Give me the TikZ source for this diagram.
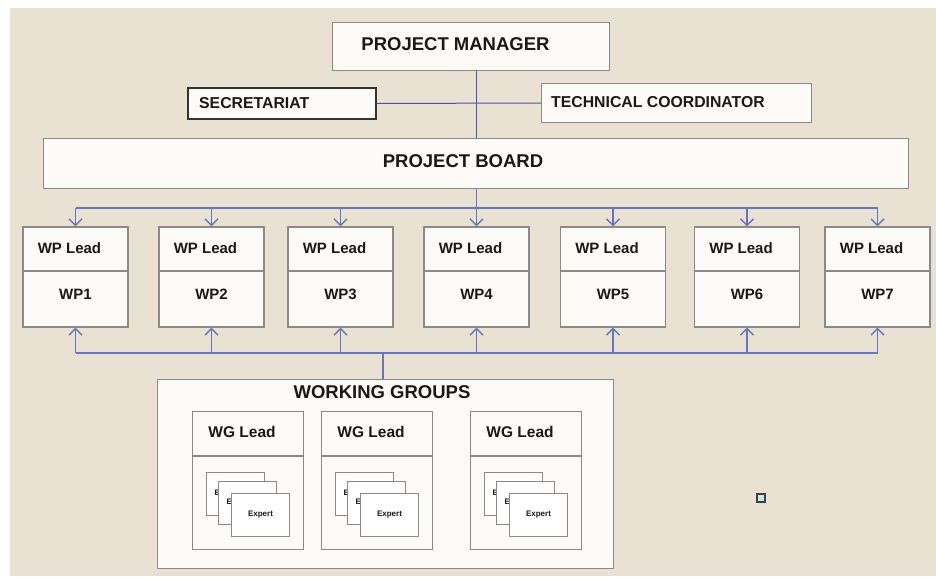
\documentclass[tikz,border=0pt]{standalone}
\usepackage{fontspec}
\setmainfont{Liberation Sans}
\usetikzlibrary{arrows.meta}
\definecolor{bg}{RGB}{233,226,210}
\definecolor{boxfill}{RGB}{252,251,248}
\definecolor{boxline}{RGB}{140,138,135}
\definecolor{linkc}{RGB}{100,118,190}
\definecolor{darklink}{RGB}{72,84,172}
\definecolor{txt}{RGB}{25,25,25}
\definecolor{sqfill}{RGB}{205,232,226}
\newcommand\myfs[1]{\fontsize{#1}{#1}\selectfont\bfseries}
\begin{document}
\begin{tikzpicture}[x=1pt,y=-1pt,
  box/.style={draw=boxline, fill=boxfill, line width=1.1pt, inner sep=0pt, anchor=north west},
  secbox/.style={draw=black!80, fill=boxfill, line width=1.8pt, inner sep=0pt, anchor=north west},
  card/.style={draw=boxline, fill=white, line width=1pt, inner sep=0pt, anchor=north west, minimum width=58pt, minimum height=43pt},
  lbl/.style={text=txt, inner sep=0pt, font=\myfs{15}},
  big/.style={text=txt, inner sep=0pt, font=\myfs{18.5}},
  mid/.style={text=txt, inner sep=0pt, font=\myfs{15.8}},
  tiny/.style={text=txt, inner sep=0pt, font=\myfs{8}},
  toplink/.style={draw=darklink, line width=1pt},
  link/.style={draw=linkc, line width=1.4pt},
  arr/.style={-{Straight Barb[length=6.5pt,width=13pt]}},
]
\useasboundingbox (0,0) rectangle (936,576);
\fill[white] (0,0) rectangle (936,576);
\fill[bg] (10,8) rectangle (936,576);

% top level
\node[box, minimum width=277pt, minimum height=48pt] (pm) at (332,22) {};
\node[big] (pmt) at (455.5,44) {PROJECT MANAGER};
\node[secbox, minimum width=188pt, minimum height=31pt] (sec) at (187,87) {};
\node[mid, anchor=west] (sect) at (199,103) {SECRETARIAT};
\node[box, minimum width=270pt, minimum height=39pt] (tc) at (541,83) {};
\node[mid, anchor=west] (tct) at (551,102.5) {TECHNICAL COORDINATOR};
\node[box, minimum width=865pt, minimum height=50pt] (pb) at (43,138) {};
\node[big] (pbt) at (463,161.5) {PROJECT BOARD};

% WP boxes
\foreach \n/\cx in {1/75.5,2/211.5,3/340.5,4/476.5,5/613,6/747,7/877.5}{
  \node[draw=boxline, fill=boxfill, line width=1.1pt, inner sep=0pt,
        minimum width=105pt, minimum height=100pt] (wp\n) at (\cx,277) {};
  \draw[draw=boxline, line width=1.1pt] ([yshift=-44.5pt]wp\n.north west) -- ([yshift=-44.5pt]wp\n.north east);
  \node[lbl] (wpl\n) at ([xshift=-6pt,yshift=-21.7pt]wp\n.north) {WP Lead};
  \node[lbl] (wpn\n) at ([yshift=-67.5pt]wp\n.north) {WP\n};
}

% working groups
\node[box, minimum width=456pt, minimum height=189pt] (wg) at (157,379) {};
\node[big] (wgt) at (382,391.7) {WORKING GROUPS};
\foreach \g/\L in {1/192,2/321,3/470}{
  \node[box, minimum width=111pt, minimum height=138pt] (wgb\g) at (\L,411) {};
  \draw[draw=boxline, line width=1.1pt] ([yshift=-45pt]wgb\g.north west) -- ([yshift=-45pt]wgb\g.north east);
  \node[lbl, font=\myfs{15.5}] (wgl\g) at ([xshift=-6pt,yshift=-21pt]wgb\g.north) {WG Lead};
  \node[card] (ca\g) at (\L+14,472) {};
  \node[tiny, anchor=west] (cat\g) at ([xshift=8.5pt]ca\g.west) {Expert};
  \node[card] (cb\g) at (\L+26,481) {};
  \node[tiny, anchor=west] (cbt\g) at ([xshift=8.5pt]cb\g.west) {Expert};
  \node[card] (cc\g) at (\L+39,493) {};
  \node[tiny] (cct\g) at (cc\g.center) {Expert};
}

% small square
\node[draw=black!75, fill=sqfill, line width=2pt, minimum size=8pt, inner sep=0pt] (sq) at (761,498) {};

% connectors
\draw[toplink] (pm.south -| wp4) -- (pb.north -| wp4);
\draw[toplink] (sec) -- (tc);
\coordinate (busT) at (476.5,208);
\coordinate (busB) at (383,353);
\draw[link] (pb.south -| wp4) -- (busT);
\draw[link] (busT -| wp1) -- (busT -| wp7);
\foreach \n in {1,...,7}{
  \draw[link,arr] (busT -| wp\n) -- (wp\n.north);
  \draw[link,arr] (busB -| wp\n) -- (wp\n.south);
}
\draw[link] (wg.north -| busB) -- (busB);
\draw[link] (busB -| wp1) -- (busB -| wp7);
\end{tikzpicture}
\end{document}
